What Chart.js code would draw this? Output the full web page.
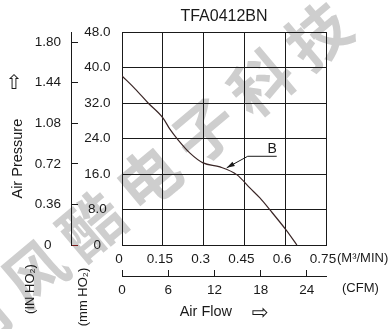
<!DOCTYPE html>
<html><head><meta charset="utf-8">
<script src="https://cdn.jsdelivr.net/npm/chart.js@4/dist/chart.umd.min.js"></script>
<style>html,body{margin:0;padding:0;background:#fff;}#wrap{width:390px;height:329px;position:relative;}</style>
</head><body><div id="wrap"><canvas id="c"></canvas></div>
<script>
const chartTitle = 'TFA0412BN';
const flowM3 = [0, 0.048, 0.096, 0.151, 0.176, 0.206, 0.250, 0.298, 0.360, 0.423, 0.471, 0.507, 0.544, 0.603, 0.643];
const pressureMm = [38.1, 35.2, 32.0, 28.6, 26.1, 23.7, 20.7, 18.5, 17.6, 15.8, 12.8, 10.6, 7.9, 3.4, 0];
const m3Ticks = [0, 0.15, 0.3, 0.45, 0.6, 0.75];
const m3TickLabels = ['0', '0.15', '0.3', '0.45', '0.6', '0.75'];
const cfmTicks = [0, 6, 12, 18, 24];
const cfmTickLabels = ['0', '6', '12', '18', '24'];
const mmTicks = [0, 8, 16, 24, 32, 40, 48];
const mmTickLabels = ['0', '8.0', '16.0', '24.0', '32.0', '40.0', '48.0'];
const inTicks = [0, 0.36, 0.72, 1.08, 1.44, 1.80];
const inTickLabels = ['0', '0.36', '0.72', '1.08', '1.44', '1.80'];
const xUnitLabels = ['(M³/MIN)', '(CFM)'];
const yUnitLabels = ['(IN HO₂)', '(mm HO₂)'];
const xTitle = 'Air Flow         ';
const yTitle = 'Air Pressure          ';
const titleArrows = ['⇨', '⇧'];
const curveName = 'B';
const curveNameAt = [0.385, 17.4];
const watermarkChars = ['司', '风', '酷', '电', '子', '科', '技'];

const M3_TO_CFM = 35.3147;
const MM_PER_IN = 25.4;
const FONT = '"Liberation Sans", Arial, Helvetica, sans-serif';
const INK = '#1a1a1a';

const setTicks = arr => s => { s.ticks = arr.map(v => ({ value: v })); };

const extras = {
  id: 'extras',
  beforeDraw(chart) {
    const ctx = chart.ctx;
    ctx.save();
    ctx.fillStyle = '#cecece';
    ctx.font = 'bold 62px "Noto Sans CJK SC"';
    ctx.textAlign = 'center';
    ctx.textBaseline = 'middle';
    const ang = -40 * Math.PI / 180;
    const cx = 148, cy = 178, step = 74;
    watermarkChars.forEach((ch, i) => {
      const k = i - 3;
      ctx.save();
      ctx.translate(cx + k * step * Math.cos(ang), cy + k * step * Math.sin(ang));
      ctx.rotate(ang);
      ctx.fillText(ch, 0, 0);
      ctx.restore();
    });
    ctx.restore();
  },
  afterDraw(chart) {
    const ctx = chart.ctx;
    const ca = chart.chartArea;
    const sx = chart.scales.x, sc = chart.scales.xCfm, sy = chart.scales.y, si = chart.scales.yIn;
    ctx.save();
    ctx.fillStyle = INK;
    ctx.strokeStyle = INK;
    ctx.textBaseline = 'middle';
    ctx.textAlign = 'left';
    ctx.font = '13px ' + FONT;
    ctx.fillText(xUnitLabels[0], ca.right + 11, sx.top + 13);
    ctx.fillText(xUnitLabels[1], ca.right + 16, sc.top + 12);
    ctx.font = '20px "DejaVu Sans"';
    ctx.textAlign = 'center';
    ctx.fillText(titleArrows[0], ca.left + 138, sc.bottom - 15);
    ctx.fillText(titleArrows[1], si.left + 14, ca.top + 52);
    ctx.font = '13px ' + FONT;
    [[yUnitLabels[0], si.left + 30, ca.bottom + 44], [yUnitLabels[1], sy.left + 12, ca.bottom + 52]].forEach(([t, x, y]) => {
      ctx.save();
      ctx.translate(x, y);
      ctx.rotate(-Math.PI / 2);
      ctx.textAlign = 'center';
      ctx.fillText(t, 0, 0);
      ctx.restore();
    });
    const px = sx.getPixelForValue(curveNameAt[0]);
    const py = sy.getPixelForValue(curveNameAt[1]);
    const kx = px + 21, ky = py - 12, ex = kx + 29;
    ctx.lineWidth = 1;
    ctx.beginPath();
    ctx.moveTo(ex, ky + 0.5); ctx.lineTo(kx, ky + 0.5); ctx.lineTo(px, py);
    ctx.stroke();
    const a = Math.atan2(py - ky, px - kx);
    ctx.beginPath();
    ctx.moveTo(px, py);
    ctx.lineTo(px - 8 * Math.cos(a) + 2.5 * Math.sin(a), py - 8 * Math.sin(a) - 2.5 * Math.cos(a));
    ctx.lineTo(px - 8 * Math.cos(a) - 2.5 * Math.sin(a), py - 8 * Math.sin(a) + 2.5 * Math.cos(a));
    ctx.closePath();
    ctx.fill();
    ctx.font = '14px ' + FONT;
    ctx.textAlign = 'right';
    ctx.textBaseline = 'alphabetic';
    ctx.fillText(curveName, ex, ky - 3);
    ctx.restore();
  }
};

new Chart(document.getElementById('c'), {
  type: 'line',
  data: {
    datasets: [{
      data: flowM3.map((x, i) => ({ x, y: pressureMm[i] })),
      xAxisID: 'x', yAxisID: 'y',
      borderColor: '#3a2626', borderWidth: 1.2,
      pointRadius: 0, fill: false,
      cubicInterpolationMode: 'monotone'
    }]
  },
  options: {
    responsive: true, maintainAspectRatio: false, animation: false,
    layout: { padding: { left: 0, right: 64, top: 0, bottom: 0 } },
    plugins: {
      legend: { display: false },
      tooltip: { enabled: false },
      title: { display: true, fullSize: false, text: chartTitle, color: INK, font: { family: FONT, size: 16, weight: 'normal' }, padding: { top: 7, bottom: 5.8 } }
    },
    scales: {
      x: {
        type: 'linear', position: 'bottom', min: 0, max: 0.75, weight: 0,
        afterBuildTicks: setTicks(m3Ticks),
        ticks: { callback: (v, i) => m3TickLabels[i], color: INK, font: { family: FONT, size: 13.5 }, padding: 6, labelOffset: -3, maxRotation: 0, autoSkip: false },
        grid: { color: INK, lineWidth: 1, drawTicks: false },
        border: { display: true, color: INK, width: 1 },
        afterFit: s => { s.height = 31; }
      },
      xCfm: {
        type: 'linear', position: 'bottom', min: 0, max: 0.75 * M3_TO_CFM, weight: 1,
        afterBuildTicks: setTicks(cfmTicks),
        ticks: { callback: (v, i) => cfmTickLabels[i], color: INK, font: { family: FONT, size: 13.5 }, padding: 12, maxRotation: 0, autoSkip: false },
        grid: { drawOnChartArea: false, drawTicks: true, tickLength: -6, color: INK, lineWidth: 1 },
        border: { display: true, color: INK, width: 1 },
        title: { display: true, text: xTitle, color: INK, font: { family: FONT, size: 14.5 }, padding: { top: 0, bottom: 8.5 } },
        afterFit: s => { s.height = 53; }
      },
      y: {
        type: 'linear', position: 'left', min: 0, max: 48, weight: 0,
        afterBuildTicks: setTicks(mmTicks),
        ticks: { callback: (v, i) => mmTickLabels[i], color: INK, font: { family: FONT, size: 13.5 }, crossAlign: 'center', padding: 11.5, autoSkip: false },
        grid: { color: INK, lineWidth: 1, drawTicks: false },
        border: { display: true, color: INK, width: 1 },
        afterFit: s => { s.width = 51; }
      },
      yIn: {
        type: 'linear', position: 'left', min: 0, max: 48 / MM_PER_IN, weight: 1,
        afterBuildTicks: setTicks(inTicks),
        ticks: { callback: (v, i) => inTickLabels[i], color: INK, font: { family: FONT, size: 13.5 }, crossAlign: 'center', padding: 17, autoSkip: false },
        grid: { drawOnChartArea: false, drawTicks: true, tickLength: -7, lineWidth: 1,
                tickColor: c => (c.tick && c.tick.value === 0) ? '#7b1c1c' : INK, color: INK },
        border: { display: true, color: INK, width: 1 },
        title: { display: true, text: yTitle, color: INK, font: { family: FONT, size: 14.5 }, padding: { top: 9.5, bottom: 0 } },
        afterFit: s => { s.width = 71; }
      }
    }
  },
  plugins: [extras]
});
</script>
</body></html>
